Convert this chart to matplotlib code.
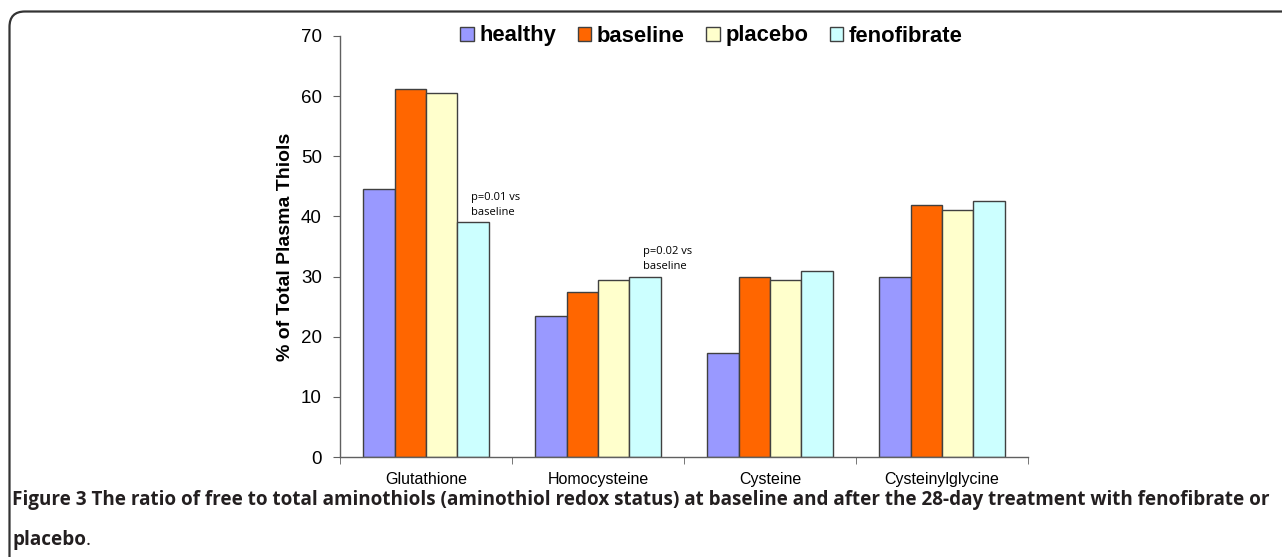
import numpy as np
import matplotlib
matplotlib.use("Agg")
import matplotlib.pyplot as plt
from matplotlib.patches import FancyBboxPatch

# ---- data ----
categories = ["Glutathione", "Homocysteine", "Cysteine", "Cysteinylglycine"]
groups = ["healthy", "baseline", "placebo", "fenofibrate"]
healthy = [44.6, 23.5, 17.3, 30.0]
baseline = [61.2, 27.4, 30.0, 41.9]
placebo = [60.5, 29.4, 29.4, 41.1]
fenofibrate = [39.0, 30.0, 31.0, 42.6]
colors = ["#9999ff", "#ff6600", "#ffffcc", "#ccffff"]

y_ticks = [0, 10, 20, 30, 40, 50, 60, 70]
ylabel = "% of Total Plasma Thiols"
notes = {0: "p=0.01 vs\nbaseline", 1: "p=0.02 vs\nbaseline"}
caption_bold = ("Figure 3 The ratio of free to total aminothiols (aminothiol redox status) "
                "at baseline and after the 28-day treatment with fenofibrate or")

W, H = 1282, 557
fig = plt.figure(figsize=(W / 100, H / 100), dpi=100)

# outer rounded frame (right and bottom sides fall outside the image)
top = 1 - 11.5 / H
frame = FancyBboxPatch((9.5 / W, -0.3), 1.1, top + 0.3,
                       boxstyle="round,pad=0,rounding_size=0.012",
                       transform=fig.transFigure, fill=False,
                       edgecolor="#333333", linewidth=1.6, mutation_aspect=W / H)
fig.patches.append(frame)

ax = fig.add_axes([340 / W, 1 - 457 / H, 688 / W, 421 / H])

series = [healthy, baseline, placebo, fenofibrate]
x = np.arange(len(categories))
bw = 0.182
for i, (vals, c, name) in enumerate(zip(series, colors, groups)):
    ax.bar(x + (i - 1.5) * bw, vals, width=bw, color=c, edgecolor="#404040",
           linewidth=1.0, label=name, zorder=2)

for k, txt in notes.items():
    ax.text(x[k] + 0.26, fenofibrate[k] + 0.8, txt, fontsize=8,
            family="Open Sans", ha="left", va="bottom", linespacing=1.5)

ax.set_xlim(-0.5, len(categories) - 0.5)
ax.set_ylim(0, 70)
ax.set_yticks(y_ticks)
ax.set_xticks(x)
ax.set_xticklabels(categories, family="Liberation Sans", fontsize=11.5)
ax.set_xticks(np.arange(len(categories) + 1) - 0.5, minor=True)
ax.tick_params(axis="x", which="major", length=0, pad=11)
ax.tick_params(axis="x", which="minor", length=5, direction="out", color="#606060")
ax.tick_params(axis="y", length=5, direction="out", color="#606060",
               labelsize=13.5, pad=8)
for lab in ax.get_yticklabels():
    lab.set_family("Liberation Sans")
for s in ["top", "right"]:
    ax.spines[s].set_visible(False)
for s in ["left", "bottom"]:
    ax.spines[s].set_color("#606060")
    ax.spines[s].set_linewidth(1.0)
ax.set_ylabel(ylabel, family="Liberation Sans", fontweight="bold", fontsize=14,
              labelpad=5)

leg = ax.legend(loc="center", bbox_to_anchor=(0.54, 1.0), ncol=4, frameon=False,
                prop={"family": "Liberation Sans", "weight": "bold", "size": 15.8},
                handlelength=0.6, handleheight=0.6, handletextpad=0.25,
                columnspacing=1.0, borderaxespad=0)

cap = fig.text(12 / W, 1 - 500 / H, caption_bold, family="Open Sans", fontweight="bold",
               fontsize=13.6, color="#231f20", va="center", ha="left")
p = fig.text(12 / W, 1 - 540 / H, "placebo", family="Open Sans", fontweight="bold",
             fontsize=13.6, color="#231f20", va="center", ha="left")
fig.canvas.draw()
bb = p.get_window_extent()
fig.text(bb.x1 / W, 1 - 540 / H, ".", family="Open Sans", fontsize=13.6,
         color="#231f20", va="center", ha="left")

fig.savefig("out.png", dpi=100)
